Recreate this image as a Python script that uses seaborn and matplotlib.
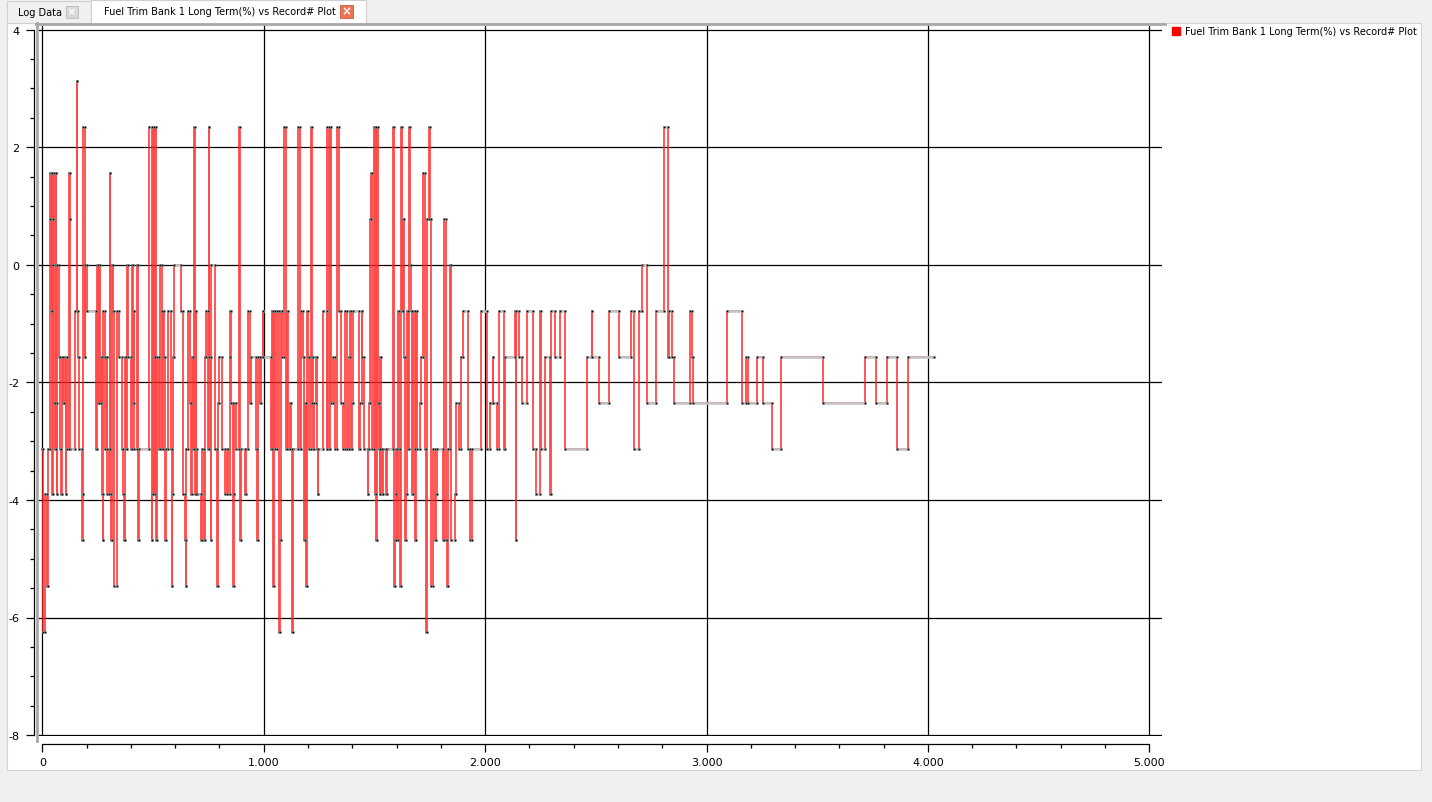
import numpy as np
import pandas as pd
import matplotlib
matplotlib.use("Agg")
import matplotlib.pyplot as plt
import seaborn as sns
from matplotlib.patches import Rectangle
from matplotlib.lines import Line2D
from matplotlib.ticker import MultipleLocator, FuncFormatter

# ---------------- data ----------------
# record number at which each new long-term fuel trim value starts
record = [
    0, 3, 12, 20, 24, 33, 37, 40, 43, 46, 47, 48, 50, 52, 58, 61, 63, 66, 68, 76,
    80, 85, 88, 95, 99, 106, 108, 110, 121, 124, 127, 148, 155, 158, 163, 166, 180, 183, 186, 192,
    193, 204, 242, 245, 250, 258, 261, 266, 270, 272, 275, 281, 284, 290, 294, 300, 304, 307, 310, 313,
    318, 324, 339, 348, 360, 363, 368, 372, 380, 383, 388, 400, 405, 408, 412, 416, 428, 432, 436, 480,
    494, 497, 500, 505, 508, 510, 515, 519, 525, 532, 540, 542, 546, 549, 555, 560, 570, 580, 585, 588,
    591, 593, 628, 637, 644, 648, 651, 660, 666, 672, 676, 680, 684, 688, 693, 696, 700, 716, 720, 730,
    733, 740, 748, 751, 754, 760, 763, 781, 788, 792, 798, 812, 823, 834, 840, 846, 849, 851, 860, 864,
    868, 876, 888, 895, 899, 916, 922, 927, 940, 944, 965, 971, 975, 985, 990,
    997, 999, 1033, 1036, 1042, 1047, 1051, 1062, 1069, 1074, 1077, 1084, 1092, 1099, 1104, 1108, 1119, 1123, 1129, 1134,
    1156, 1164, 1168, 1176, 1182, 1186, 1191, 1194, 1201, 1206, 1212, 1216, 1219, 1224, 1228, 1236, 1239, 1243, 1246, 1266,
    1284, 1287, 1296, 1299, 1303, 1314, 1321, 1333, 1339, 1351, 1356, 1366, 1378, 1384, 1389, 1394, 1400, 1404, 1431, 1436,
    1442, 1446, 1454, 1469, 1472, 1475, 1479, 1484, 1487, 1496, 1502, 1505, 1509, 1512, 1517, 1520, 1524, 1527, 1532, 1536,
    1541, 1554, 1557, 1584, 1589, 1592, 1596, 1599, 1604, 1607, 1611, 1614, 1622, 1626, 1629, 1634, 1637, 1641, 1646, 1652,
    1656, 1661, 1667, 1670, 1674, 1682, 1685, 1689, 1694, 1704, 1712, 1719, 1727, 1733, 1739, 1745, 1750, 1757, 1764, 1772,
    1779, 1782, 1810, 1814, 1822, 1828, 1832, 1843, 1847, 1862, 1870, 1882, 1892, 1900, 1922, 1934, 1940, 1982,
    2009, 2022, 2034, 2036, 2054, 2062, 2084, 2089, 2134, 2139, 2141, 2153, 2165, 2190, 2218, 2229, 2246, 2254, 2272, 2294,
    2297, 2317, 2337, 2362, 2460, 2482, 2484, 2513, 2558, 2607, 2660, 2674, 2696, 2710, 2730, 2773, 2810, 2828, 2832, 2845,
    2855, 2925, 2935, 2938, 3092, 3159, 3179, 3186, 3227, 3257, 3294, 3336, 3527, 3715, 3765, 3816, 3861, 3910,
]
# value of each run, in sensor counts (one count = 0.78125 %)
trim_count = [
    -4, -8, -5, -7, -4, 1, 2, -1, 2, -5, 1, 0, 2, -3, -4, 2, -3, -5, 0, -2,
    -4, -5, -2, -3, -2, -5, -2, -4, 2, 1, -4, -1, 4, -1, -2, -4, -6, -5, 3, -2,
    0, -1, -4, 0, -3, 0, -3, -2, -5, -6, -1, -2, -4, -2, -5, -4, 2, -5, -6, 0,
    -1, -7, -1, -2, -4, -5, -6, -2, -4, 0, -2, -4, 0, -3, -1, -4, 0, -6, -4, 3,
    -6, -5, 3, -5, -2, 3, -6, -2, -4, 0, -1, -4, -1, -2, -6, -4, -1, -4, -7, -5,
    -2, 0, -1, -5, -6, -7, -4, -1, -3, -5, -2, -4, 3, -5, -1, -4, -5, -6, -4, -6,
    -2, -1, -4, 3, -2, -6, 0, -4, -7, -3, -2, -4, -5, -4, -5, -2, -1, -3, -7, -5,
    -3, -4, 3, -6, -4, -5, -4, -1, -3, -2, -4, -6, -2, -3, -2,
    -1, -2, -4, -1, -7, -1, -4, -1, -8, -6, -1, -2, 3, -4, -1, -4, -3, -4, -8, -4,
    3, -4, -1, -2, -6, -3, -7, -1, -2, -4, 3, -3, -2, -4, -3, -2, -4, -5, -4, -1,
    -4, 3, -4, 3, -3, -2, -4, 3, -1, -3, -4, -1, -4, -2, -1, -4, -3, -1, -4, -3,
    -1, -2, -4, -5, -4, -3, 1, 2, -4, 3, -5, 3, -6, 3, -3, -4, -5, -2, -4, -5,
    -4, -5, -4, 3, -7, -6, -5, -4, -6, -1, -4, -7, 3, -1, 1, -2, -6, -5, -1, -4,
    3, 0, -1, -5, -1, -4, -6, -1, -4, -3, -2, 2, -4, -8, 1, 3, 1, -7, -4, -6,
    -5, -4, -6, 1, -6, -7, -4, 0, -6, -5, -3, -4, -2, -1, -4, -6, -4, -1,
    -4, -3, -2, -3, -4, -1, -4, -2, -1, -6, -1, -2, -3, -1, -4, -5, -1, -4, -2, -5,
    -1, -2, -1, -4, -2, -1, -2, -3, -1, -2, -1, -4, -1, 0, -3, -1, 3, -2, -1, -2,
    -3, -1, -2, -3, -1, -3, -2, -3, -2, -3, -4, -2, -3, -2, -3, -2, -4, -2,
]
last_record = 4027
trim_step_pct = 0.78125

series_name = "Fuel Trim Bank 1 Long Term(%) vs Record# Plot"
x_ticks = [0, 1000, 2000, 3000, 4000, 5000]
y_ticks = [-8, -6, -4, -2, 0, 2, 4]

# ---------------- derived step path ----------------
starts = np.array(record, dtype=float)
vals = np.array(trim_count, dtype=float) * trim_step_pct
ends = np.append(starts[1:], last_record)
px = np.empty(2 * len(starts)); py = np.empty(2 * len(starts))
px[0::2] = starts; px[1::2] = ends
py[0::2] = vals; py[1::2] = vals
path = pd.DataFrame({"record": px, "trim": py})

# ---------------- figure ----------------
W, H = 1432, 803
fig = plt.figure(figsize=(W / 100, H / 100), dpi=100, facecolor="#f0f0f0")
def fx(p): return p / W
def fy(p): return 1 - p / H

TXT = 7.0
# white panel (behind the axes)
fig.patches.append(Rectangle((fx(7), fy(771)), (1421 - 7) / W, (771 - 24) / H,
                             transform=fig.transFigure, facecolor="white",
                             edgecolor="#d4d4d4", lw=0.8, zorder=-5))
# tabs
fig.patches.append(Rectangle((fx(7), fy(24)), (91 - 7) / W, 22 / H, transform=fig.transFigure,
                             facecolor="#f0f0f0", edgecolor="#d0d0d0", lw=0.8, zorder=-4))
fig.patches.append(Rectangle((fx(91), fy(24.5)), (366 - 91) / W, 24 / H, transform=fig.transFigure,
                             facecolor="white", edgecolor="#d0d0d0", lw=0.8, zorder=-4))
fig.text(fx(18), fy(13), "Log Data", fontsize=TXT, family="DejaVu Sans", va="center", ha="left")
fig.text(fx(104), fy(12), series_name, fontsize=TXT, family="DejaVu Sans", va="center", ha="left")
fig.patches.append(Rectangle((fx(65.5), fy(18.5)), 12 / W, 12 / H, transform=fig.transFigure,
                             facecolor="#d8d8d8", edgecolor="#b8b8b8", lw=0.6, zorder=2))
fig.text(fx(71.5), fy(12.5), "×", fontsize=8, color="white", ha="center", va="center",
         fontweight="bold", zorder=3)
fig.patches.append(Rectangle((fx(339.5), fy(18.5)), 13 / W, 13 / H, transform=fig.transFigure,
                             facecolor="#ec7555", edgecolor="#c85a3c", lw=0.6, zorder=2))
fig.text(fx(346), fy(12), "×", fontsize=8.5, color="white", ha="center", va="center",
         fontweight="bold", zorder=3)

# plot axes
L, R, T, B = 37.5, 1162, 25, 737
ax = fig.add_axes([fx(L), fy(B), (R - L) / W, (B - T) / H])
ax.set_facecolor("white")

# scale mapping
px0, px_per_rec = 42.3, 0.2214
py4, py_per_unit = 30.7, 58.78
ax.set_xlim((L - px0) / px_per_rec, (R - px0) / px_per_rec)
ax.set_ylim(4 - (B - py4) / py_per_unit, 4 + (py4 - T) / py_per_unit)

red = "#ff2222"
sns.lineplot(data=path, x="record", y="trim", sort=False, estimator=None, ax=ax,
             color=red, lw=1.3, alpha=0.82, zorder=3, legend=False)
ax.hlines(vals, starts, ends, color="#c4c4c4", lw=1.9, zorder=4)
dots = pd.DataFrame({"record": np.concatenate([starts, ends]),
                     "trim": np.concatenate([vals, vals])})
sns.scatterplot(data=dots, x="record", y="trim", ax=ax, color="black", s=3.0,
                marker="o", edgecolor="#a0a0a0", linewidth=0.4, zorder=5, legend=False)

# grid
ax.set_xticks(x_ticks)
ax.set_yticks(y_ticks)
ax.xaxis.set_minor_locator(MultipleLocator(200))
ax.yaxis.set_minor_locator(MultipleLocator(0.5))
ax.grid(True, which="major", color="black", lw=0.9, zorder=1)
ax.set_axisbelow(True)
ax.xaxis.set_major_formatter(FuncFormatter(lambda v, p: f"{int(v):,}".replace(",", ".")))
ax.yaxis.set_major_formatter(FuncFormatter(lambda v, p: f"{int(v)}"))
for s in ("top", "right"):
    ax.spines[s].set_visible(False)
ax.spines["left"].set_position(("outward", 4 * 0.72))
ax.spines["left"].set_bounds(-8, 4)
ax.spines["bottom"].set_position(("outward", 8 * 0.72))
ax.spines["bottom"].set_bounds(0, 5000)
for s in ("left", "bottom"):
    ax.spines[s].set_color("black")
    ax.spines[s].set_linewidth(0.9)
ax.tick_params(axis="both", which="major", length=8 * 0.72, width=0.9, labelsize=8,
               colors="black")
ax.tick_params(axis="both", which="minor", length=4 * 0.72, width=0.9)
ax.tick_params(axis="y", which="major", pad=4.5)
ax.tick_params(axis="x", which="major", pad=3.5)
ax.set_xlabel("")
ax.set_ylabel("")

# sunken border of the plot area (gray top and left edges)
fig.add_artist(Line2D([fx(37), fx(37)], [fy(24), fy(742)], transform=fig.transFigure,
                      color="#a8a8a8", lw=2.0, zorder=6))
fig.add_artist(Line2D([fx(36), fx(1165)], [fy(24.5), fy(24.5)], transform=fig.transFigure,
                      color="#a8a8a8", lw=2.0, zorder=6))

# legend
handle = Line2D([], [], marker="s", color="red", linestyle="none", markersize=6)
fig.legend(handles=[handle], labels=[series_name], loc="upper left",
           bbox_to_anchor=(fx(1170), fy(25)), bbox_transform=fig.transFigure,
           frameon=False, fontsize=TXT, handlelength=0.8, handletextpad=0.5,
           borderpad=0.2, borderaxespad=0)

fig.savefig("out.png", dpi=100, facecolor=fig.get_facecolor())
